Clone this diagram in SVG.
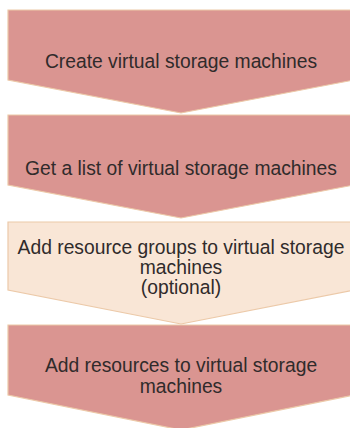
<svg xmlns="http://www.w3.org/2000/svg" width="350" height="428" viewBox="0 0 350 428">
<style>
.dark{fill:#da9591;stroke:#ecc9a8;stroke-width:1.2}
.light{fill:#f9e6d6;stroke:#ecc9a8;stroke-width:1.2}
text{font-family:"Liberation Sans",Arial,sans-serif;font-size:19.3px;fill:#302b2b;text-anchor:middle}
</style>
<rect width="350" height="428" fill="#ffffff"/>
<g id="step1">
<polygon class="dark" points="8,10 354,10 354,80 181,113 8,80"/>
<text x="181" y="68">Create virtual storage machines</text>
</g>
<g id="step2">
<polygon class="dark" points="8,115 354,115 354,185 181,218 8,185"/>
<text x="181" y="175">Get a list of virtual storage machines</text>
</g>
<g id="step3">
<polygon class="light" points="8,222 354,222 354,290 181,324 8,290"/>
<text x="181" y="254">Add resource groups to virtual storage</text>
<text x="181" y="274">machines</text>
<text x="181" y="294">(optional)</text>
</g>
<g id="step4">
<polygon class="dark" points="8,325 354,325 354,395 181,430 8,395"/>
<text x="181" y="372">Add resources to virtual storage</text>
<text x="181" y="393">machines</text>
</g>
<g id="connectors"></g>
</svg>
